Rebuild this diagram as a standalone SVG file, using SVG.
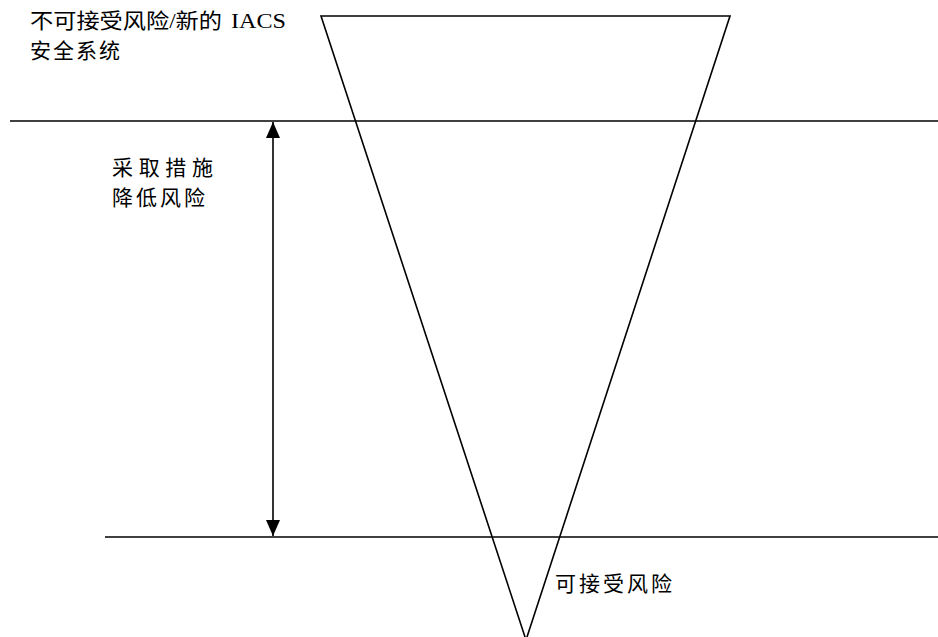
<svg xmlns="http://www.w3.org/2000/svg" width="938" height="637" viewBox="0 0 938 637">
<style>
.ln{stroke:#000;stroke-width:1.6;fill:none}
.t{font-family:"Liberation Serif","Noto Sans CJK SC",serif;font-size:21px;fill:#000}
</style>
<defs>
<marker id="ah2" viewBox="0 0 16 14" refX="16" refY="7" markerWidth="16" markerHeight="14" markerUnits="userSpaceOnUse" orient="auto">
<path d="M0,0 L16,7 L0,14 Z" fill="#000"/>
</marker>
</defs>
<rect width="938" height="637" fill="#fff"/>
<g id="triangle">
<polygon class="ln" points="321,16 730,16 526,640"/>
</g>
<g id="connectors">
<line class="ln" x1="10" y1="121" x2="938" y2="121"/>
<line class="ln" x1="105" y1="537" x2="938" y2="537"/>
<line class="ln" x1="273" y1="329" x2="273" y2="122" marker-end="url(#ah2)"/>
<line class="ln" x1="273" y1="329" x2="273" y2="536" marker-end="url(#ah2)"/>
</g>
<g id="label-top">
<text class="t" x="30" y="28"><tspan textLength="192" lengthAdjust="spacingAndGlyphs">不可接受风险/新的</tspan><tspan x="231" textLength="55" lengthAdjust="spacingAndGlyphs">IACS</tspan></text>
<text class="t" x="30" y="58" textLength="90">安全系统</text>
</g>
<g id="label-mid">
<text class="t" x="112" y="175" textLength="101">采取措施</text>
<text class="t" x="112" y="205" textLength="93">降低风险</text>
</g>
<g id="label-bottom">
<text class="t" x="555" y="591" textLength="117">可接受风险</text>
</g>
</svg>
